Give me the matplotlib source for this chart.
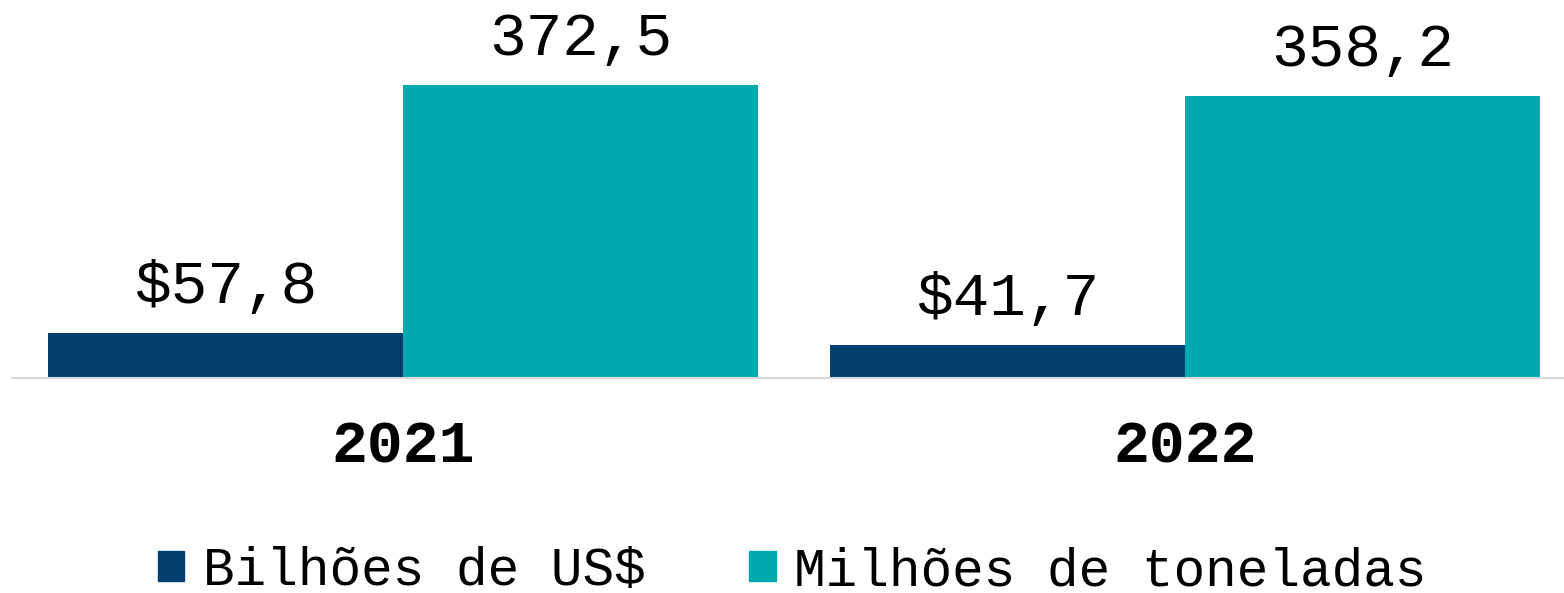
import matplotlib
matplotlib.use("Agg")
import matplotlib.pyplot as plt
import numpy as np
from matplotlib.patches import Patch

years = ["2021", "2022"]
series_names = ["Bilhões de US$", "Milhões de toneladas"]
bilhoes = [57.8, 41.7]
milhoes = [372.5, 358.2]
bilhoes_labels = ["$57,8", "$41,7"]
milhoes_labels = ["372,5", "358,2"]

navy = "#003F6F"
teal = "#00A9AE"
font = "Liberation Mono"

W, H = 1564, 593
fig = plt.figure(figsize=(W / 100, H / 100), dpi=100)
ax = fig.add_axes([12 / W, (H - 378) / H, (1563 - 12) / W, 378 / H])

x = np.arange(len(years))
bw = 0.4546
b1 = ax.bar(x - bw / 2, bilhoes, bw, color=navy, label=series_names[0])
b2 = ax.bar(x + bw / 2, milhoes, bw, color=teal, label=series_names[1])

for bars, labs in ((b1, bilhoes_labels), (b2, milhoes_labels)):
    for r, lab in zip(bars, labs):
        ax.annotate(lab, (r.get_x() + r.get_width() / 2, r.get_height()),
                    xytext=(0, 21.6), textcoords="offset points",
                    ha="center", va="baseline", fontsize=44, family=font)

ax.set_xlim(-0.5, 1 + 378 / 782)
ax.set_ylim(0, 378 / 0.7866)
ax.set_xticks(x)
ax.set_xticklabels(years, fontsize=43, fontweight="bold", family=font)
ax.tick_params(axis="x", length=0, pad=30)
ax.set_yticks([])
for s in ["top", "right", "left"]:
    ax.spines[s].set_visible(False)
ax.spines["bottom"].set_color("#D9D9D9")
ax.spines["bottom"].set_linewidth(1.5)

handles = [Patch(color=navy), Patch(color=teal)]
fig.legend(handles, series_names, loc="center", bbox_to_anchor=(0.5 + 10 / W, 1 - 571 / H),
           ncol=2, frameon=False, prop={"family": font, "size": 38},
           handlelength=0.51, handleheight=0.51, handletextpad=0.35,
           columnspacing=1.95, borderpad=0, borderaxespad=0)

fig.savefig("out.png", dpi=100)
